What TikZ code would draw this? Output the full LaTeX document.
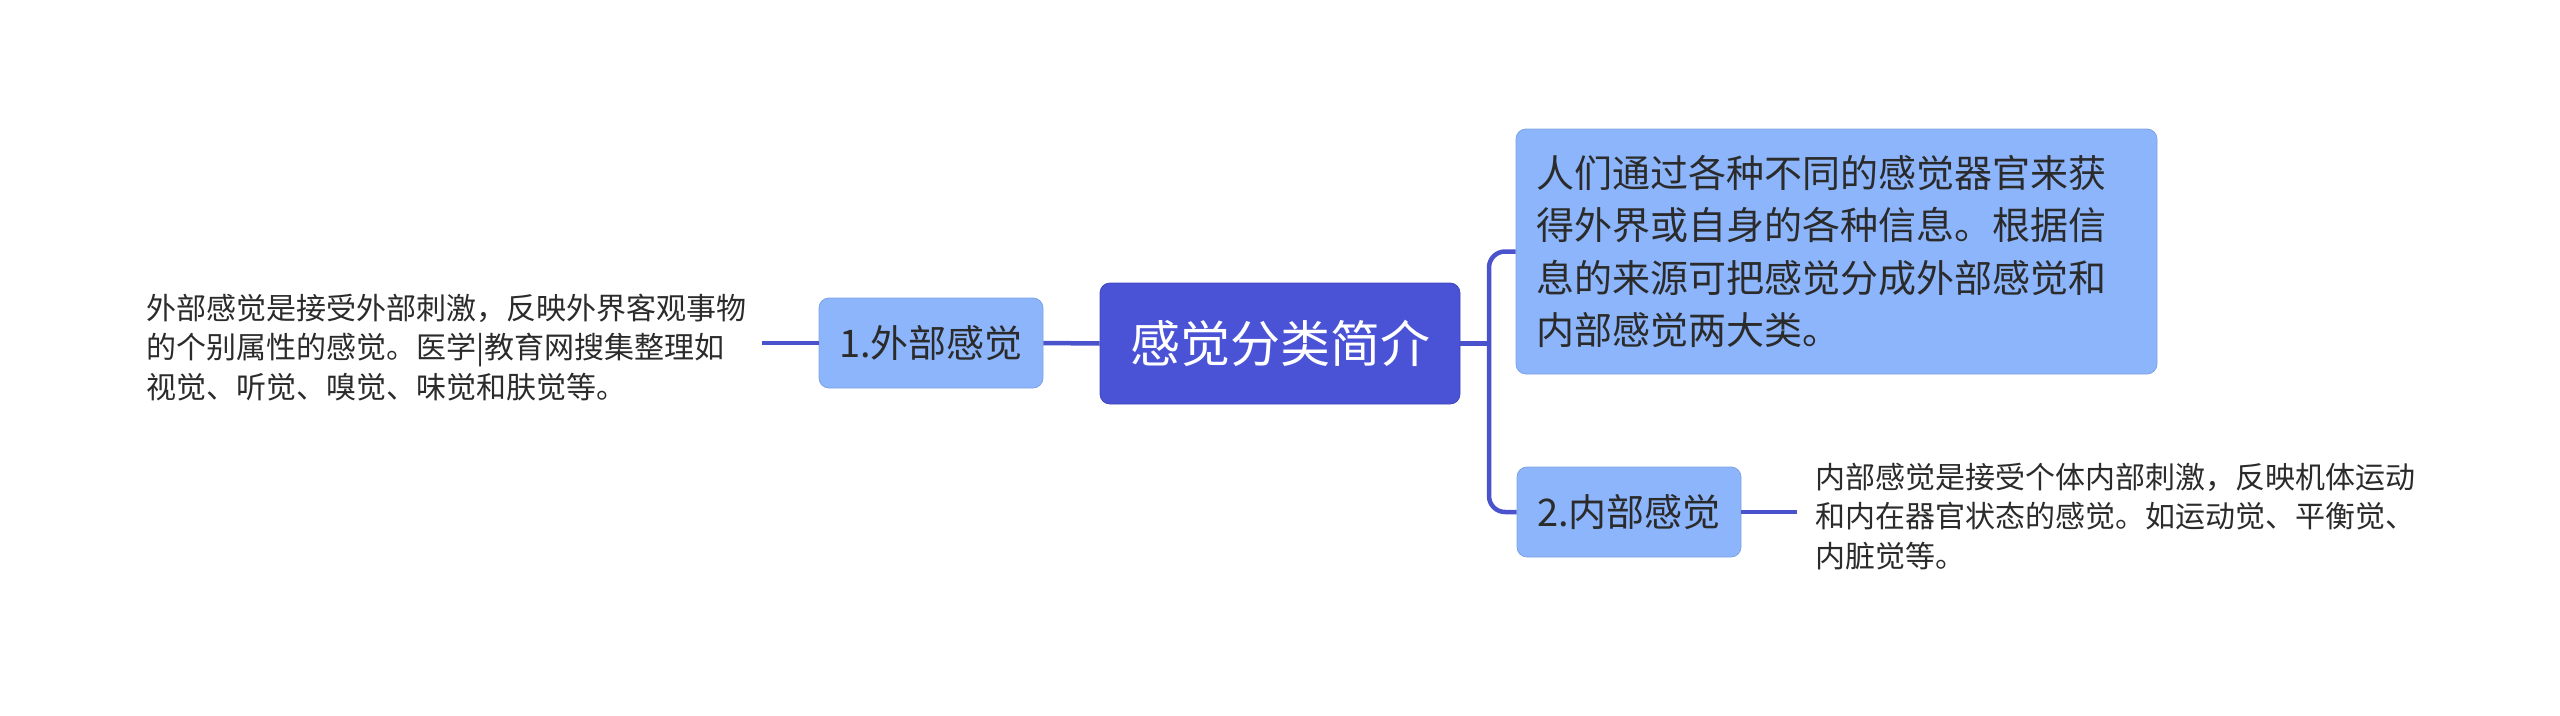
\documentclass[tikz,border=0pt]{standalone}
\usepackage{fontspec}
\setmainfont{Noto Sans CJK SC}
\definecolor{mainblue}{HTML}{4A52D6}
\definecolor{lightblue}{HTML}{8CB5FB}
\definecolor{lineblue}{HTML}{4A52CC}
\definecolor{txt}{HTML}{2B2B2B}
\begin{document}
\begin{tikzpicture}[x=1pt,y=-1pt,
  conn/.style={draw=lineblue,line width=4.5pt},
  mainnode/.style={fill=mainblue,draw=mainblue!85!black,line width=0.8pt,rounded corners=10pt,minimum width=360pt,minimum height=121pt,inner sep=0pt,text=white,font=\fontsize{50}{60}\selectfont},
  subnode/.style={fill=lightblue,draw=lightblue!90!black,line width=0.8pt,rounded corners=10pt,minimum width=224pt,minimum height=90pt,inner sep=0pt,text=txt,font=\fontsize{38}{46}\selectfont},
  bignode/.style={fill=lightblue,draw=lightblue!90!black,line width=0.8pt,rounded corners=10pt,minimum width=641pt,minimum height=245pt,inner xsep=20pt,inner ysep=0pt,text width=601pt,align=left,text=txt,font=\fontsize{38}{52.4}\selectfont},
  leaftext/.style={inner sep=0pt,align=left,text=txt,font=\fontsize{30}{39.5}\selectfont}
]
\useasboundingbox (0,0) rectangle (2560,715);
\node[mainnode] (main) at (1280,343.5) {感觉分类简介};
\node[subnode] (n1) at (931,343) {1.外部感觉};
\node[subnode] (n2) at (1629,512) {2.内部感觉};
\node[bignode] (box) at (1836.5,251.5) {人们通过各种不同的感觉器官来获\\得外界或自身的各种信息。根据信\\息的来源可把感觉分成外部感觉和\\内部感觉两大类。};
\node[leaftext,anchor=west] (lt) at (146,347.5) {外部感觉是接受外部刺激，反映外界客观事物\\的个别属性的感觉。医学|教育网搜集整理如\\视觉、听觉、嗅觉、味觉和肤觉等。};
\node[leaftext,anchor=west] (rt) at (1815,516.5) {内部感觉是接受个体内部刺激，反映机体运动\\和内在器官状态的感觉。如运动觉、平衡觉、\\内脏觉等。};
\coordinate (trunk) at (1489,343.5);
\coordinate (ltend) at (762,343);
\coordinate (rtend) at (1797,512);
\draw[conn] (main.east) -- (trunk);
\draw[conn,rounded corners=16pt] (box.west) -| (trunk) |- (n2.west);
\draw[conn] (main.west) -- (n1.east);
\draw[conn] (n1.west) -- (ltend);
\draw[conn] (n2.east) -- (rtend);
\end{tikzpicture}
\end{document}
